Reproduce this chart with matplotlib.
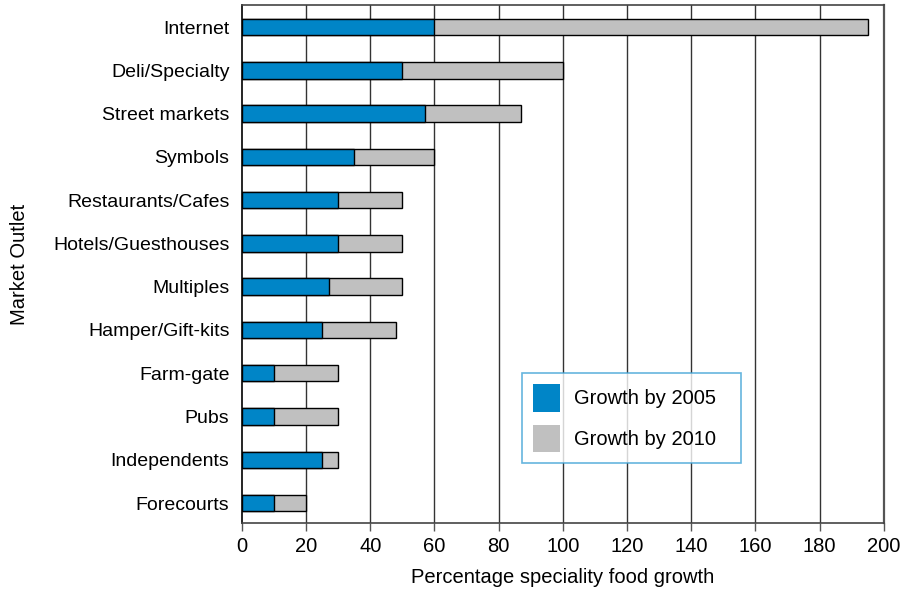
import matplotlib
matplotlib.use("Agg")
import matplotlib.pyplot as plt
from matplotlib.patches import Patch

# Market outlets, listed from bottom to top of the chart
outlets = ["Forecourts", "Independents", "Pubs", "Farm-gate", "Hamper/Gift-kits",
           "Multiples", "Hotels/Guesthouses", "Restaurants/Cafes", "Symbols",
           "Street markets", "Deli/Specialty", "Internet"]
growth_2005 = [10, 25, 10, 10, 25, 27, 30, 30, 35, 57, 50, 60]
growth_2010 = [20, 30, 30, 30, 48, 50, 50, 50, 60, 87, 100, 195]
x_ticks = [0, 20, 40, 60, 80, 100, 120, 140, 160, 180, 200]

blue = "#0085C7"
grey = "#C0C0C0"
fs = 14.5

plt.rcParams["font.family"] = ["Liberation Sans", "DejaVu Sans"]

fig = plt.figure(figsize=(9.13, 5.92), dpi=100)
ax = fig.add_axes([0.265, 0.1166, 0.703, 0.875])

pos = list(range(len(outlets)))
h = 0.38
# 2010 bars run from zero; the 2005 bars are drawn over their left part
ax.barh(pos, growth_2010, height=h, color=grey, edgecolor="black", linewidth=1.0, zorder=3)
ax.barh(pos, growth_2005, height=h, color=blue, edgecolor="black", linewidth=1.0, zorder=4)

ax.set_xlim(0, 200)
ax.set_ylim(-0.46, len(outlets) - 0.49)
ax.set_xticks(x_ticks)
ax.set_yticks(pos)
ax.set_yticklabels(outlets)
ax.tick_params(axis="y", length=0, pad=9, labelsize=14)
ax.tick_params(axis="x", length=6, width=1, color="#555555", pad=4, labelsize=fs)

for x in x_ticks[1:-1]:
    ax.axvline(x, color="#333333", linewidth=1.0, zorder=1)

for side in ["top", "right", "bottom"]:
    ax.spines[side].set_color("#444444")
    ax.spines[side].set_linewidth(1.2)
ax.spines["left"].set_color("black")
ax.spines["left"].set_linewidth(1.2)
ax.spines["right"].set_color("#555555")
ax.spines["right"].set_linewidth(1.6)

ax.set_xlabel("Percentage speciality food growth", fontsize=fs, labelpad=9)
ax.set_ylabel("Market Outlet", fontsize=fs, labelpad=17)

handles = [Patch(facecolor=blue, edgecolor="none", label="Growth by 2005"),
           Patch(facecolor=grey, edgecolor="none", label="Growth by 2010")]
leg = ax.legend(handles=handles, loc="lower left", bbox_to_anchor=(0.436, 0.116, 0.341, 0.176),
                mode="expand", fontsize=fs, frameon=True, fancybox=False,
                handlelength=1.35, handleheight=1.7, handletextpad=0.7,
                labelspacing=0.65, borderpad=0.55, borderaxespad=0)
leg.get_frame().set_edgecolor("#3FA3D6")
leg.get_frame().set_linewidth(1.2)
leg.set_zorder(5)

fig.savefig("out.png", dpi=100)
